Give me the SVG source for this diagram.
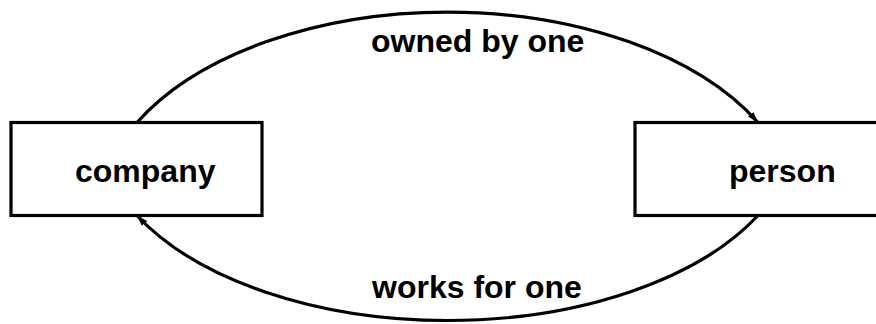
<svg xmlns="http://www.w3.org/2000/svg" width="876" height="324" viewBox="0 0 876 324">
<style>
.box{fill:#fff;stroke:#000;stroke-width:3.2}
.lbl{font-family:"Liberation Sans",Arial,sans-serif;font-weight:bold;font-size:32px;fill:#000}
.edge{fill:none;stroke:#000;stroke-width:3.2}
</style>
<defs>
<marker id="arr" markerUnits="userSpaceOnUse" markerWidth="12" markerHeight="8" refX="11" refY="4" orient="auto">
<path d="M0,0.5 L11,4 L0,7.5 Z" fill="#000"/>
</marker>
</defs>
<g id="company">
<rect class="box" x="11" y="122.5" width="251" height="93"/>
<text class="lbl" x="75" y="182">company</text>
</g>
<g id="person">
<rect class="box" x="635" y="122.5" width="250" height="93"/>
<text class="lbl" x="729" y="182">person</text>
</g>
<g id="connectors">
<path class="edge" d="M137,122.5 A350,205 0 0 1 758,122.5" marker-end="url(#arr)"/>
<text class="lbl" x="371" y="52">owned by one</text>
<path class="edge" d="M758,215.5 A350,195 0 0 1 137,215.5" marker-end="url(#arr)"/>
<text class="lbl" x="372" y="298">works for one</text>
</g>
</svg>
